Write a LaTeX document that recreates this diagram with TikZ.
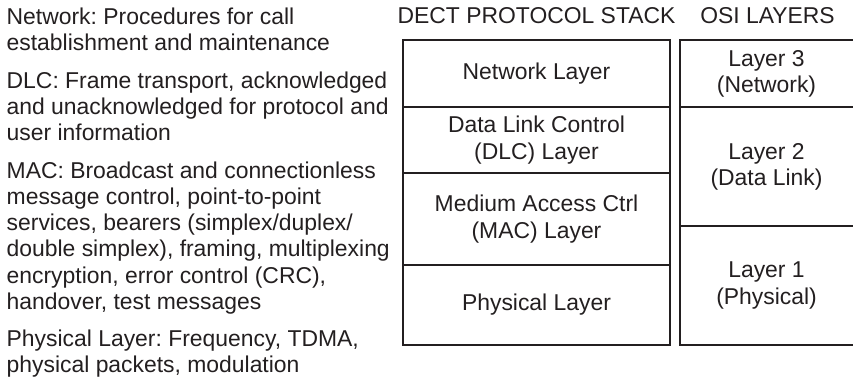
\documentclass[tikz,border=0pt]{standalone}
\usepackage{fontspec}
\setmainfont{Liberation Sans}
\usetikzlibrary{positioning}
\definecolor{ink}{RGB}{35,31,32}
\frenchspacing
\tikzset{
  txt/.style={font=\fontsize{22.9}{26.2}\selectfont\frenchspacing,text=ink,inner sep=0pt},
  layer/.style={txt,draw=ink,line width=2pt,align=center,minimum width=267pt,outer sep=0pt},
  osi/.style={txt,align=center,minimum width=173pt,outer sep=0pt},
  rule/.style={draw=ink,line width=2pt},
  desc/.style={txt,align=left,anchor=north west},
}
\begin{document}
\begin{tikzpicture}[x=1pt,y=-1pt]
  \useasboundingbox(0,0)rectangle(853,381);
  % descriptions
  \node[desc](netdesc)at(6.5,5.7){\strut Network: Procedures for call\\establishment and maintenance};
  \node[desc](dlcdesc)at(6.5,69.7){\strut DLC: Frame transport, acknowledged\\and unacknowledged for protocol and\\user information};
  \node[desc](macdesc)at(6.5,159.7){\strut MAC: Broadcast and connectionless\\message control, point-to-point\\services, bearers (simplex/duplex/\\double simplex), framing, multiplexing\\encryption, error control (CRC),\\handover, test messages};
  \node[desc](phydesc)at(6.5,327.7){\strut Physical Layer: Frequency, TDMA,\\physical packets, modulation};
  % dect stack
  \node[txt,anchor=base](dectstack)at(536.5,23){DECT PROTOCOL STACK};
  \node[layer,minimum height=67pt](netlayer)at(536.5,73.5){Network Layer};
  \node[layer,minimum height=66pt,below=0pt of netlayer](dlclayer){Data Link Control\\(DLC) Layer};
  \node[layer,minimum height=92pt,below=0pt of dlclayer](maclayer){Medium Access Ctrl\\(MAC) Layer};
  \node[layer,minimum height=80pt,below=0pt of maclayer](phylayer){Physical Layer};
  % osi layers, open at the right
  \node[txt,anchor=base](osilayers)at(767.5,23){OSI LAYERS};
  \node[osi,minimum height=67pt,anchor=north west](osithree)at(680,40){Layer 3\\(Network)};
  \node[osi,minimum height=119pt,below=0pt of osithree](ositwo){Layer 2\\(Data Link)};
  \node[osi,minimum height=119pt,below=0pt of ositwo](osione){Layer 1\\(Physical)};
  \draw[rule](osithree.north east)--(osithree.north west)--(osione.south west)--(osione.south east);
  \draw[rule](ositwo.north west)--(ositwo.north east);
  \draw[rule](osione.north west)--(osione.north east);
\end{tikzpicture}
\end{document}
